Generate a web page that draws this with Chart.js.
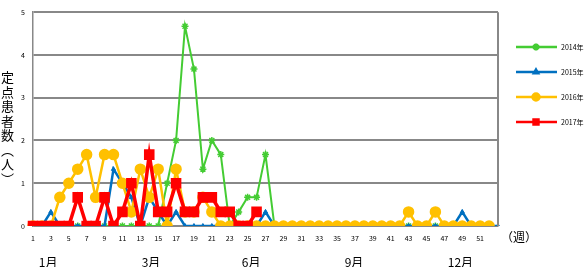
<!DOCTYPE html>
<html>
<head>
<meta charset="utf-8">
<script src="https://cdn.jsdelivr.net/npm/chart.js@4.4.1/dist/chart.umd.min.js"></script>
<style>
  html, body { margin: 0; padding: 0; background: #fff; }
  #wrap { position: relative; width: 584px; height: 267px; }
  #ytitle {
    position: absolute; left: 0px; top: 71px;
    writing-mode: vertical-rl;
    font-family: "Noto Sans CJK JP", sans-serif; font-size: 13px;
    line-height: 14px; letter-spacing: 1.5px; color: #000;
  }
</style>
</head>
<body>
<div id="wrap">
  <canvas id="myChart" width="584" height="267"></canvas>
  <div id="ytitle">定点患者数（人）</div>
</div>
<script>
// week numbers 1..53
var weeks = [];
for (var i = 1; i <= 53; i++) weeks.push(String(i));

var yTicks = [0, 1, 2, 3, 4, 5];
var months = ['1月', '3月', '6月', '9月', '12月'];
var monthWeeks = [2.7, 14.2, 25.4, 36.9, 48.8];

var y2014 = [0,0,0,0,0,0,0,0,0,0,0,0,0,0,0,
  1,2,4.67,3.67,1.33,2,1.67,0,0.33,0.67,0.67,1.67,
  0,0,0,0,0,0,0,0,0,0,0,0,0,0,0,0,0,0,0,0,0,0,0,0,0];
var y2015 = [0,0,0.33,0,0,0,0,0,0,1.33,1,0.67,0,0.67,0.33,0,0.33,
  0,0,0,0,0,0,0,0,0,0.33,
  0,0,0,0,0,0,0,0,0,0,0,0,0,0,0,0,0,0,0,0,0,0.33,0,0,0,0];
var y2016 = [0,0,0,0.67,1,1.33,1.67,0.67,1.67,1.67,1,0.33,1.33,0.67,1.33,0,1.33,
  0.33,0.33,0.67,0.33,
  0,0,0,0,0,0,0,0,0,0,0,0,0,0,0,0,0,0,0,0,0,0.33,0,0,0.33,0,0,0,0,0,0];
var y2017 = [0,0,0,0,0,0.67,0,0,0.67,0,0.33,1,0,1.67,0.33,0.33,1,0.33,0.33,0.67,0.67,0.33,0.33,0,0,0.33];

var seriesNames = ['2014年', '2015年', '2016年', '2017年'];

var data = {
  labels: weeks,
  datasets: [{
    label: seriesNames[0], data: y2014, order: 3,
    borderColor: '#44cc33', backgroundColor: '#44cc33',
    borderWidth: 2, pointStyle: 'star', pointRadius: 3.5, pointBorderWidth: 1.5
  }, {
    label: seriesNames[1], data: y2015, order: 2,
    borderColor: '#0070c0', backgroundColor: '#0070c0',
    borderWidth: 2.5, pointStyle: 'triangle', pointRadius: 2.5, pointBorderWidth: 1
  }, {
    label: seriesNames[2], data: y2016, order: 1,
    borderColor: '#ffc000', backgroundColor: '#ffc000',
    borderWidth: 2.5, pointStyle: 'circle', pointRadius: 4.5
  }, {
    label: seriesNames[3], data: y2017, order: 0,
    borderColor: '#ff0000', backgroundColor: '#ff0000',
    borderWidth: 3.5, pointStyle: 'rect', pointRadius: 5
  }]
};

// right border, month labels, (週) and the legend
var extras = {
  id: 'extras',
  afterDraw: function(chart) {
    var ctx = chart.ctx, a = chart.chartArea, xs = chart.scales.x;
    ctx.save();
    ctx.strokeStyle = '#888';
    ctx.lineWidth = 2;
    ctx.beginPath();
    ctx.moveTo(a.right, a.top);
    ctx.lineTo(a.right, a.bottom);
    ctx.stroke();

    ctx.fillStyle = '#000';
    ctx.textAlign = 'center';
    ctx.textBaseline = 'middle';
    ctx.font = '12px "Noto Sans CJK JP"';
    for (var m = 0; m < months.length; m++) {
      var px = xs.getPixelForValue(monthWeeks[m] - 1);
      ctx.fillText(months[m], px, 262);
    }
    ctx.textAlign = 'left';
    ctx.fillText('（週）', a.right + 3, 237);

    // legend
    var ds = chart.data.datasets;
    ctx.font = '7px "Noto Sans CJK JP"';
    for (var k = 0; k < ds.length; k++) {
      var ly = 47 + k * 25;
      ctx.strokeStyle = ds[k].borderColor;
      ctx.lineWidth = 2.5;
      ctx.beginPath();
      ctx.moveTo(516, ly);
      ctx.lineTo(557, ly);
      ctx.stroke();
      Chart.helpers.drawPoint(ctx, {
        pointStyle: ds[k].pointStyle,
        radius: Math.min(ds[k].pointRadius, 3.5),
        borderWidth: 1.5, rotation: 0
      }, 536, ly);
      ctx.fillStyle = ds[k].backgroundColor;
      ctx.fill();
      ctx.fillStyle = '#000';
      ctx.textBaseline = 'middle';
      ctx.fillText(seriesNames[k], 561, ly);
    }
    ctx.restore();
  }
};

var options = {
  responsive: false,
  animation: false,
  layout: { padding: { top: 3, right: 86, left: 0, bottom: 0 } },
  elements: { line: { tension: 0 } },
  scales: {
    x: {
      type: 'category',
      offset: false,
      grid: { display: false, drawTicks: false },
      border: { color: '#888', width: 1.5 },
      ticks: {
        autoSkip: false, maxRotation: 0, padding: 8,
        color: '#000', font: { size: 7, family: '"Noto Sans CJK JP"' },
        callback: function(v, idx) { return (idx % 2 === 0 && idx < 52) ? weeks[idx] : ''; }
      },
      afterFit: function(s) { s.height = 41; }
    },
    y: {
      min: 0, max: 5,
      afterBuildTicks: function(s) { s.ticks = yTicks.map(function(v) { return { value: v }; }); },
      grid: { color: '#888', lineWidth: 2, drawTicks: false },
      border: { color: '#888', width: 1.5 },
      ticks: { padding: 8, color: '#000', font: { size: 7, family: '"Noto Sans CJK JP"' } },
      afterFit: function(s) { s.width = 33; }
    }
  },
  plugins: {
    legend: { display: false },
    tooltip: { enabled: false }
  }
};

var ctx = document.getElementById('myChart').getContext('2d');
var myChart = new Chart(ctx, {
  type: 'line',
  data: data,
  options: options,
  plugins: [extras]
});
</script>
</body>
</html>
